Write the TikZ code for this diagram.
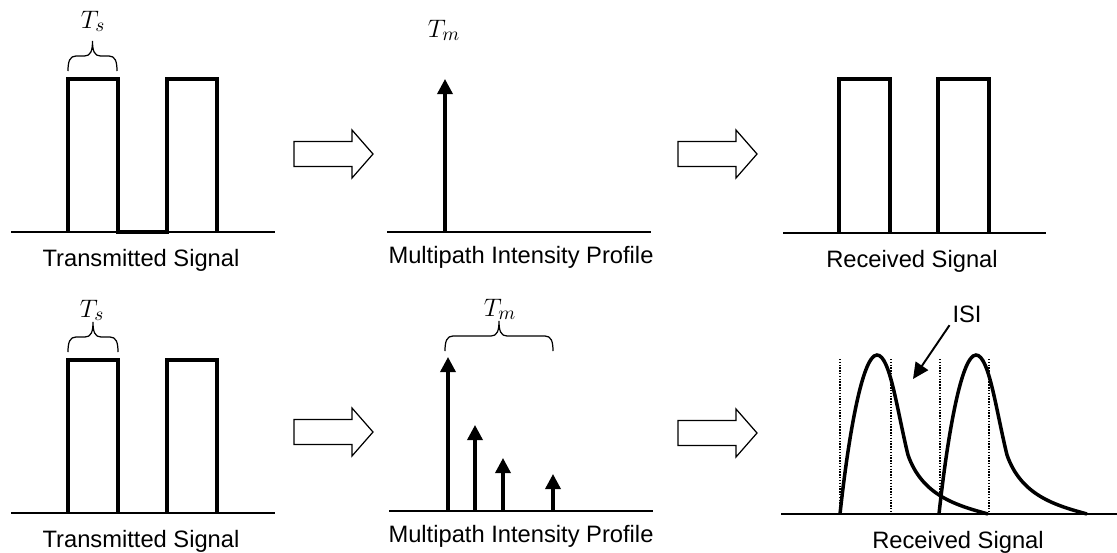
\documentclass[tikz,border=0pt]{standalone}
\usepackage{fontspec}
\setmainfont{Liberation Sans}
\usetikzlibrary{arrows.meta}

\tikzset{
  pics/capbrace/.style={code={
    \draw[line width=0.7pt] (0,0) .. controls (0,-10) and (2,-15) .. (8,-15)
      -- ({#1/2-8},-15) .. controls ({#1/2-2},-15) and ({#1/2},-20) .. ({#1/2},-30)
      .. controls ({#1/2},-20) and ({#1/2+2},-15) .. ({#1/2+8},-15)
      -- ({#1-8},-15) .. controls ({#1-2},-15) and (#1,-10) .. (#1,0);}},
  pics/fatarrow/.style={code={
    \draw[line width=0.7pt] (0,-12.5) -- (58,-12.5) -- (58,-24) -- (79,0)
      -- (58,24) -- (58,12.5) -- (0,12.5) -- cycle;}}
}

\begin{document}
\begin{tikzpicture}[x=0.02cm,y=-0.02cm,
  axis/.style={line width=1.1pt},
  pulse/.style={line width=2pt},
  impulse/.style={line width=1.9pt,-{Triangle[width=0.3cm,length=0.3cm]}},
  guide/.style={line width=0.6pt,dash pattern=on 0.8pt off 0.8pt},
  caption/.style={anchor=base,inner sep=0pt,font=\fontsize{13.5}{16}\selectfont},
  sym/.style={anchor=base,inner sep=0pt,font=\fontsize{15}{18}\selectfont}]
\useasboundingbox (0,0) rectangle (1117,552);

% top row
\draw[axis] (11,232) -- (275,232);
\draw[pulse] (68,232) -- (68,79) -- (118,79) -- (118,232) -- (167,232) -- (167,79) -- (217,79) -- (217,232);
\pic at (68,71) {capbrace=49};
\node[sym] (ts1) at (93,28) {$T_s$};
\node[caption] (cap1) at (141,266) {Transmitted Signal};
\pic at (294,154) {fatarrow};

\draw[axis] (387,232) -- (651,232);
\draw[impulse] (445,232) -- (445,79);
\node[sym] (tm1) at (444,37) {$T_m$};
\node[caption] (cap2) at (521,263) {Multipath Intensity Profile};
\pic at (678,154) {fatarrow};

\draw[axis] (783,233) -- (1046,233);
\draw[pulse] (839,233) -- (839,79) -- (890,79) -- (890,233);
\draw[pulse] (938,233) -- (938,79) -- (989,79) -- (989,233);
\node[caption] (cap3) at (912,267) {Received Signal};

% bottom row
\draw[axis] (11,513) -- (275,513);
\draw[pulse] (68,513) -- (68,360) -- (118,360) -- (118,513);
\draw[pulse] (167,513) -- (167,360) -- (217,360) -- (217,513);
\pic at (68,352) {capbrace=50};
\node[sym] (ts2) at (92,317) {$T_s$};
\node[caption] (cap4) at (141,547) {Transmitted Signal};
\pic at (294,432) {fatarrow};

\draw[axis] (389,511) -- (653,511);
\draw[impulse] (448,511) -- (448,357);
\draw[impulse] (475,511) -- (475,425);
\draw[impulse] (503,511) -- (503,458);
\draw[impulse] (553,511) -- (553,474);
\pic at (445,351) {capbrace=108};
\node[sym] (tm2) at (500,316) {$T_m$};
\node[caption] (cap5) at (521,542) {Multipath Intensity Profile};
\pic at (678,433) {fatarrow};

\draw[axis] (781,514) -- (1117,514);
\draw[guide] (840,359) -- (840,514);
\draw[guide] (891,359) -- (891,514);
\draw[guide] (940,359) -- (940,514);
\draw[guide] (989,359) -- (989,514);
\draw[pulse] (840,514) .. controls (848,440) and (862,355) .. (877,355)
  .. controls (890,355) and (897,410) .. (908,455)
  .. controls (922,495) and (955,505) .. (988,514);
\draw[pulse] (939,514) .. controls (947,440) and (961,355) .. (976,355)
  .. controls (989,355) and (996,410) .. (1007,455)
  .. controls (1021,495) and (1054,505) .. (1087,514);
\node[caption,inner sep=1.5pt] (isi) at (967,322) {ISI};
\coordinate (isihit) at (913,379);
\draw[line width=1.1pt,-{Triangle[width=0.3cm,length=0.32cm]}] (isi.south west) -- (isihit);
\node[caption] (cap6) at (958,548) {Received Signal};
\end{tikzpicture}
\end{document}
